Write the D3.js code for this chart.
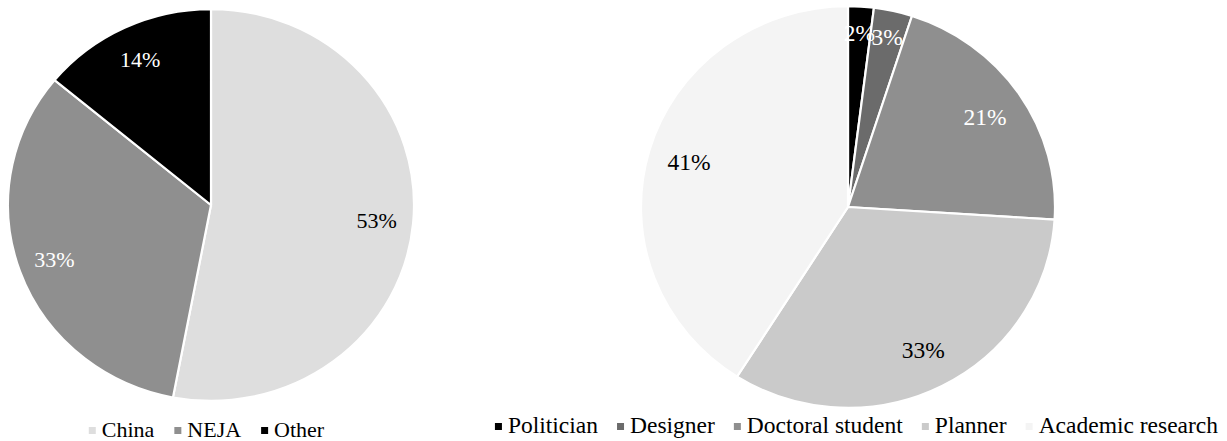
<!DOCTYPE html>
<html><head><meta charset="utf-8"><script src="https://cdn.jsdelivr.net/npm/d3@7/dist/d3.min.js"></script></head>
<body style="margin:0">
<svg id="s" width="1227" height="441"></svg>
<script>
// ---- data ----
const originCategories = ["China", "NEJA", "Other"];
const originValues = [53, 33, 14];
const originColors = ["#dedede", "#8f8f8f", "#000000"];
const originLabelColors = ["#000000", "#ffffff", "#ffffff"];

const roleCategories = ["Politician", "Designer", "Doctoral student", "Planner", "Academic research"];
const roleValues = [2, 3, 21, 33, 41];
const roleColors = ["#000000", "#6b6b6b", "#8f8f8f", "#cacaca", "#f4f4f4"];
const roleLabelColors = ["#ffffff", "#ffffff", "#ffffff", "#000000", "#000000"];

// Times-compatible advance widths (per 1000 em) for text layout without DOM measuring
const TW = {" ":250,A:722,C:667,D:722,E:611,J:389,N:722,O:722,P:556,
  a:444,b:500,c:444,d:500,e:444,f:333,g:500,h:500,i:278,j:278,k:500,l:278,m:778,
  n:500,o:500,p:500,q:500,r:333,s:389,t:278,u:500,v:500,w:722,x:500,y:500,z:444};
const textWidth = (str, size) => d3.sum(str.split(""), ch => TW[ch] || 500) * size / 1000;

const svg = d3.select("#s");

function drawPie(cfg) {
  const pie = d3.pie().sort(null).value(d => d.v);
  const arcs = pie(cfg.values.map((v, i) => ({ v, i })));
  const arc = d3.arc().innerRadius(0).outerRadius(cfg.r);
  svg.append("g")
    .attr("transform", `translate(${cfg.cx},${cfg.cy}) scale(1,${cfg.sy})`)
    .selectAll("path").data(arcs).join("path")
    .attr("d", arc)
    .attr("fill", d => cfg.colors[d.data.i])
    .attr("stroke", "#ffffff")
    .attr("stroke-width", 2.2);

  const total = d3.sum(cfg.values);
  const labelPos = d => {
    const rr = cfg.r * (d.data.v / total < 0.05 ? 0.87 : cfg.lr);
    const a = (d.startAngle + d.endAngle) / 2;
    return [cfg.cx + Math.sin(a) * rr, cfg.cy - Math.cos(a) * rr * cfg.sy];
  };
  svg.selectAll(null).data(arcs).join("text")
    .attr("x", d => labelPos(d)[0])
    .attr("y", d => labelPos(d)[1] + cfg.fs * 0.35)
    .attr("text-anchor", "middle")
    .attr("font-size", cfg.fs)
    .style("font-family", '"Liberation Serif"')
    .attr("fill", d => cfg.labelColors[d.data.i])
    .text(d => d.data.v + "%");

  // legend: marker squares + names, centred under the pie
  const widths = cfg.categories.map(c => 13 + textWidth(c, cfg.lfs));
  const tot = d3.sum(widths) + cfg.lgap * (widths.length - 1);
  const xs = [];
  let x = cfg.legendCx - tot / 2;
  widths.forEach(w => { xs.push(x); x += w + cfg.lgap; });

  svg.selectAll(null).data(cfg.categories).join("rect")
    .attr("x", (d, i) => xs[i])
    .attr("y", cfg.markerY).attr("width", 7).attr("height", 7)
    .attr("fill", (d, i) => cfg.colors[i]);
  svg.selectAll(null).data(cfg.categories).join("text")
    .attr("x", (d, i) => xs[i] + 13)
    .attr("y", cfg.legendY)
    .attr("font-size", cfg.lfs)
    .style("font-family", '"Liberation Serif"')
    .attr("fill", "#000")
    .text(d => d);
}

drawPie({
  cx: 211, cy: 205, r: 203, sy: 0.965, lr: 0.82, fs: 22,
  values: originValues, categories: originCategories,
  colors: originColors, labelColors: originLabelColors,
  legendCx: 206.5, legendY: 437, markerY: 427, lfs: 22, lgap: 20
});
drawPie({
  cx: 848, cy: 207, r: 207, sy: 0.97, lr: 0.8, fs: 23.5,
  values: roleValues, categories: roleCategories,
  colors: roleColors, labelColors: roleLabelColors,
  legendCx: 856.5, legendY: 433, markerY: 423, lfs: 23.5, lgap: 19
});
</script></body></html>
